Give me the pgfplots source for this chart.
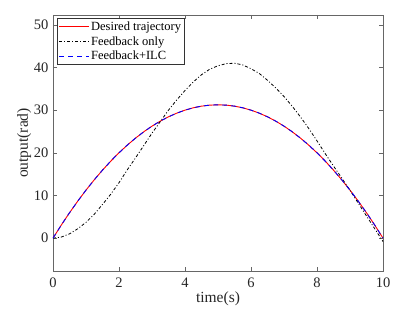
\documentclass[border=0pt]{standalone}
\usepackage{pgfplots}
\pgfplotsset{compat=1.18}
\usepackage{pgfplotstable}
\usepackage{fontspec}
\setmainfont{Liberation Serif}

\pgfplotstableread{
t     d       f      ilc
0     0       0      0
0.25  3.047   0.25   3.047
0.5   5.938   1.0    5.938
0.75  8.672   2.2    8.672
1     11.25   3.7    11.25
1.25  13.672  5.6    13.672
1.5   15.938  7.9    15.938
1.75  18.047  10.3   18.047
2     20      13.0   20
2.25  21.797  16.0   21.797
2.5   23.438  18.8   23.438
2.75  24.922  21.7   24.922
3     26.25   24.6   26.25
3.25  27.422  27.3   27.422
3.5   28.438  30.0   28.438
3.75  29.297  32.4   29.297
4     30      34.6   30
4.25  30.547  36.6   30.547
4.5   30.938  38.3   30.938
4.75  31.172  39.6   31.172
5     31.25   40.4   31.25
5.25  31.172  40.9   31.172
5.5   30.938  41.0   30.938
5.75  30.547  40.6   30.547
6     30      39.7   30
6.25  29.297  38.6   29.297
6.5   28.438  37.0   28.438
6.75  27.422  35.2   27.422
7     26.25   33.2   26.25
7.25  24.922  30.9   24.922
7.5   23.438  28.4   23.438
7.75  21.797  25.7   21.797
8     20      22.8   20
8.25  18.047  19.8   18.047
8.5   15.938  16.9   15.938
8.75  13.672  14.1   13.672
9     11.25   11.2   11.25
9.25  8.672   8.2    8.672
9.5   5.938   5.2    5.938
9.75  3.047   2.2    3.047
10    0       -0.8   0
}\datatable

\begin{document}
\begin{tikzpicture}
\begin{axis}[
  name=ax,
  scale only axis,
  width=330pt, height=256pt,
  xmin=0, xmax=10,
  ymin=-7.7, ymax=52.3,
  xtick={0,2,...,10},
  ytick={0,10,...,50},
  tick align=inside,
  tick pos=both,
  major tick length=4pt,
  axis line style={draw=black!60, line width=0.8pt},
  tick style={draw=black!60, line width=0.6pt},
  ticklabel style={font=\fontsize{14.5}{16}\selectfont, text=black!85},
  xticklabel style={yshift=-3pt},
  yticklabel style={xshift=-1pt},
  /pgf/number format/assume math mode=true,
  xlabel={time(s)},
  ylabel={output(rad)},
  label style={font=\fontsize{15.5}{17}\selectfont, text=black!85},
  xlabel style={yshift=2pt},
  ylabel style={yshift=-4pt},
  legend style={at={(0.012,0.988)}, anchor=north west, draw=black!80, line width=0.6pt,
    font=\fontsize{12.5}{15}\selectfont, inner sep=1.5pt, row sep=1.5pt,
    nodes={inner sep=1.6pt},
    legend cell align=left},
  legend image code/.code={\draw[#1] plot coordinates {(0cm,0cm) (1.05cm,0cm)};},
]
\addplot[red, line width=0.9pt] table[x=t, y=d] {\datatable};
\addlegendentry{Desired trajectory}
\addplot[black, line width=0.8pt, dash pattern=on 3pt off 2pt on 1pt off 2pt] table[x=t, y=f] {\datatable};
\addlegendentry{Feedback only}
\addplot[blue, line width=0.9pt, dash pattern=on 5pt off 4pt] table[x=t, y=ilc] {\datatable};
\addlegendentry{Feedback+ILC}
\end{axis}
\path ([shift={(-53pt,-44pt)}]ax.south west) rectangle ([shift={(24pt,15pt)}]ax.north east);
\end{tikzpicture}
\end{document}
